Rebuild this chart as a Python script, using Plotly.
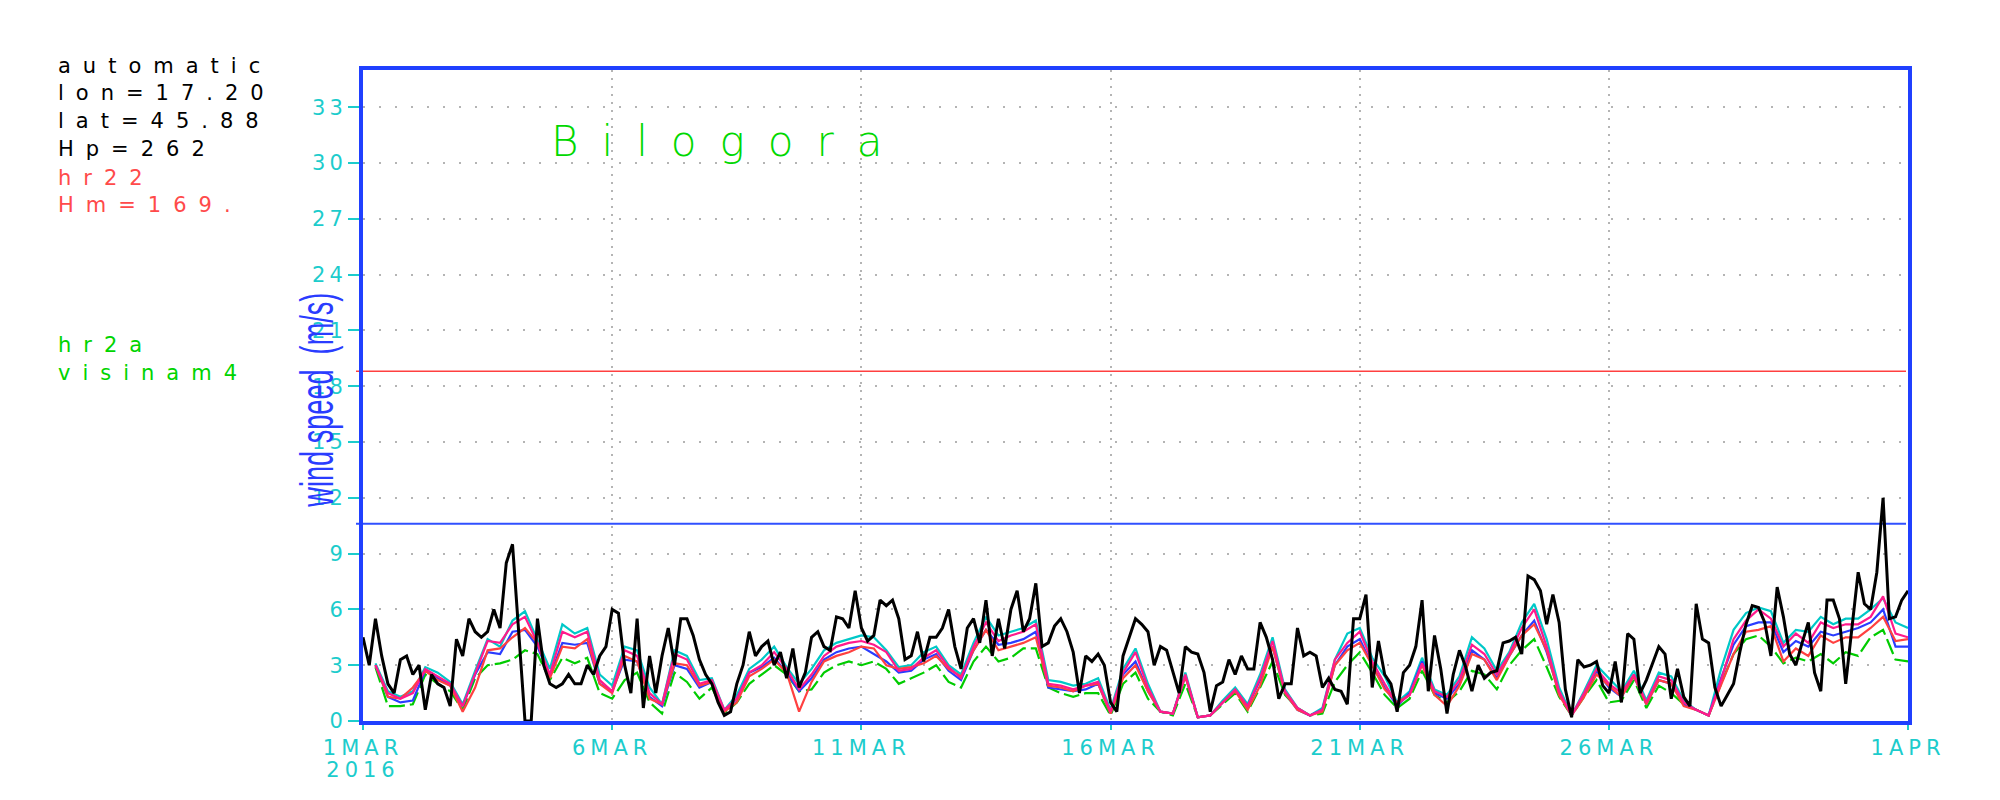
import pandas as pd
import plotly.graph_objects as go

# ---------------- data ----------------
START = "2016-03-01"
END = "2016-04-01"

# observed wind speed, 3-hourly from 1 MAR 00 UTC (one row per day)
OBS = [
    4.5, 3.0, 5.5, 3.5, 2.0, 1.5, 3.3, 3.5,
    2.5, 3.0, 0.6, 2.5, 2.0, 1.8, 0.8, 4.4,
    3.5, 5.5, 4.8, 4.5, 4.8, 6.0, 5.0, 8.5,
    9.5, 5.0, 0.0, 0.0, 5.5, 3.0, 2.0, 1.8,
    2.0, 2.5, 2.0, 2.0, 3.0, 2.5, 3.5, 4.0,
    6.0, 5.8, 3.0, 1.5, 5.5, 0.7, 3.5, 1.5,
    3.5, 5.0, 3.0, 5.5, 5.5, 4.6, 3.3, 2.5,
    2.0, 1.0, 0.3, 0.5, 2.0, 3.0, 4.8, 3.5,
    4.0, 4.3, 3.0, 3.7, 2.3, 3.9, 1.8, 2.6,
    4.5, 4.8, 4.0, 3.8, 5.6, 5.5, 5.0, 7.0,
    5.0, 4.3, 4.6, 6.5, 6.2, 6.5, 5.5, 3.3,
    3.5, 4.8, 3.2, 4.5, 4.5, 5.0, 6.0, 4.0,
    2.8, 5.0, 5.5, 4.2, 6.5, 3.5, 5.5, 3.9,
    6.0, 7.0, 4.8, 5.5, 7.4, 4.0, 4.2, 5.1,
    5.5, 4.8, 3.7, 1.5, 3.5, 3.2, 3.6, 3.0,
    1.0, 0.5, 3.5, 4.5, 5.5, 5.2, 4.8, 3.0,
    4.0, 3.8, 2.6, 1.5, 4.0, 3.7, 3.6, 2.6,
    0.5, 1.9, 2.1, 3.3, 2.5, 3.5, 2.8, 2.8,
    5.3, 4.5, 3.3, 1.2, 2.0, 2.0, 5.0, 3.5,
    3.7, 3.5, 1.8, 2.3, 1.7, 1.6, 0.9, 5.5,
    5.5, 6.8, 1.8, 4.3, 2.5, 2.0, 0.5, 2.6,
    3.0, 4.0, 6.5, 1.6, 4.6, 2.8, 0.4, 2.5,
    3.8, 2.9, 1.6, 3.0, 2.3, 2.6, 2.7, 4.2,
    4.3, 4.5, 3.6, 7.8, 7.6, 7.0, 5.2, 6.8,
    5.3, 1.7, 0.2, 3.3, 2.9, 3.0, 3.2, 1.9,
    1.5, 3.2, 1.0, 4.7, 4.4, 1.5, 2.2, 3.1,
    4.0, 3.6, 1.2, 2.8, 1.3, 0.8, 6.3, 4.4,
    4.2, 1.8, 0.8, 1.4, 2.0, 3.7, 5.2, 6.2,
    6.1, 5.3, 3.5, 7.2, 5.6, 3.6, 3.0, 4.2,
    5.3, 2.6, 1.6, 6.5, 6.5, 5.5, 2.0, 5.0,
    8.0, 6.3, 6.0, 8.0, 12.0, 5.5, 5.6, 6.5,
    7.0,
]

# model wind speeds, 6-hourly from 1 MAR 00 UTC (one row per day)
CYAN = [
    None, 3.1, 1.6, 1.3,  1.6, 2.9, 2.6, 2.1,  0.9, 2.7, 4.4, 4.0,  5.4, 5.9, 4.3, 2.8,
    5.2, 4.7, 5.0, 2.5,  1.9, 4.0, 3.8, 1.8,  0.9, 3.8, 3.5, 2.2,  2.3, 0.6, 1.4, 2.8,
    3.3, 4.0, 2.9, 2.0,  2.8, 3.8, 4.2, 4.4,  4.6, 4.5, 3.8, 2.9,  3.0, 3.7, 4.0, 3.0,
    2.5, 4.2, 5.6, 4.6,  4.8, 5.0, 5.4, 2.2,  2.1, 1.9, 2.0, 2.3,  0.6, 2.8, 3.9, 2.0,
    0.5, 0.4, 2.6, 0.2,  0.3, 1.1, 1.8, 0.9,  2.5, 4.5, 1.7, 0.7,  0.3, 0.7, 3.3, 4.7,
    5.0, 3.4, 2.4, 1.0,  1.6, 3.4, 1.7, 1.4,  2.4, 4.5, 3.9, 2.7,  3.7, 5.3, 6.3, 4.4,
    1.8, 0.3, 1.6, 3.0,  2.3, 1.6, 2.7, 1.1,  2.6, 2.4, 1.1, 0.6,  0.3, 2.8, 4.9, 5.8,
    6.1, 5.9, 4.2, 4.9,  4.8, 5.6, 5.2, 5.5,  5.5, 6.0, 6.6, 5.3,  5.0,
]
PINK = [
    None, 3.0, 1.5, 1.2,  1.5, 2.8, 2.4, 2.0,  0.8, 2.5, 4.3, 4.2,  5.2, 5.6, 4.2, 2.5,
    4.8, 4.5, 4.8, 2.2,  1.6, 3.8, 3.5, 1.5,  0.9, 3.6, 3.3, 2.0,  2.2, 0.6, 1.2, 2.6,
    3.0, 3.7, 2.8, 1.7,  2.5, 3.5, 4.0, 4.2,  4.3, 4.1, 3.7, 2.7,  2.8, 3.4, 3.8, 2.9,
    2.3, 4.0, 5.3, 4.3,  4.6, 4.8, 5.2, 2.0,  1.9, 1.7, 1.9, 2.1,  0.5, 2.6, 3.7, 1.8,
    0.5, 0.4, 2.5, 0.2,  0.3, 1.0, 1.7, 0.8,  2.3, 4.3, 1.6, 0.7,  0.3, 0.6, 3.3, 4.2,
    4.8, 3.2, 2.0, 0.9,  1.4, 3.1, 1.6, 1.3,  2.2, 4.1, 3.6, 2.5,  3.6, 5.0, 6.0, 4.0,
    1.6, 0.3, 1.5, 2.8,  2.0, 1.5, 2.5, 1.0,  2.4, 2.2, 1.0, 0.6,  0.3, 2.2, 4.4, 5.4,
    6.0, 5.5, 4.0, 4.7,  4.2, 5.3, 5.0, 5.2,  5.2, 5.6, 6.7, 4.7,  4.5,
]
BLUE = [
    None, 3.0, 1.3, 1.0,  1.1, 2.7, 2.3, 1.9,  0.8, 2.5, 3.7, 3.6,  4.8, 4.9, 4.0, 2.4,
    4.2, 4.1, 4.2, 2.0,  1.6, 3.3, 3.2, 1.3,  0.8, 3.0, 2.8, 1.8,  2.1, 0.5, 1.2, 2.6,
    2.9, 3.4, 2.6, 1.6,  2.3, 3.3, 3.7, 3.9,  4.0, 3.6, 3.2, 2.6,  2.7, 3.3, 3.6, 2.7,
    2.2, 3.8, 4.9, 4.1,  4.2, 4.4, 4.8, 1.8,  1.7, 1.6, 1.7, 2.0,  0.4, 2.5, 3.2, 1.6,
    0.5, 0.4, 2.4, 0.2,  0.3, 1.0, 1.6, 0.8,  2.2, 4.0, 1.5, 0.6,  0.3, 0.6, 3.0, 4.0,
    4.4, 3.0, 1.8, 0.8,  1.5, 3.2, 1.5, 1.2,  2.0, 3.8, 3.3, 2.3,  3.5, 4.6, 5.4, 3.7,
    1.5, 0.3, 1.4, 2.7,  1.8, 1.3, 2.4, 0.9,  2.2, 2.0, 0.9, 0.6,  0.3, 2.3, 4.1, 5.1,
    5.3, 5.3, 3.7, 4.3,  4.0, 4.8, 4.6, 4.8,  5.0, 5.3, 6.0, 4.0,  4.0,
]
RED = [
    None, 3.0, 1.3, 1.2,  1.8, 2.7, 2.2, 1.9,  0.5, 1.8, 3.8, 3.9,  4.5, 5.0, 4.2, 2.3,
    4.0, 3.9, 4.4, 2.0,  1.5, 3.5, 3.2, 1.2,  0.9, 3.1, 3.0, 1.9,  2.1, 0.5, 1.0, 2.4,
    2.8, 3.3, 2.6, 0.5,  2.1, 3.2, 3.5, 3.7,  4.0, 3.9, 3.0, 2.8,  2.9, 3.1, 3.5, 2.8,
    2.4, 3.8, 4.9, 3.8,  4.0, 4.2, 4.5, 1.9,  1.8, 1.6, 1.9, 2.0,  0.4, 2.3, 3.0, 1.6,
    0.5, 0.4, 2.4, 0.2,  0.3, 1.0, 1.6, 0.6,  1.9, 4.0, 1.5, 0.6,  0.3, 0.5, 3.0, 3.8,
    4.2, 3.0, 1.7, 1.0,  1.4, 3.0, 1.4, 0.8,  1.9, 3.6, 3.3, 2.2,  3.5, 4.6, 5.2, 3.8,
    1.4, 0.3, 1.3, 2.5,  1.9, 1.3, 2.4, 0.9,  2.2, 2.0, 0.8, 0.6,  0.3, 1.9, 3.6, 4.8,
    4.9, 5.1, 3.2, 3.9,  3.5, 4.6, 4.2, 4.5,  4.5, 5.0, 5.6, 4.3,  4.4,
]
GREEN = [
    None, 2.9, 0.8, 0.8,  0.9, 2.5, 2.0, 1.6,  0.6, 2.3, 3.0, 3.1,  3.3, 3.8, 3.6, 2.2,
    3.4, 3.1, 3.4, 1.5,  1.2, 2.2, 2.6, 1.0,  0.4, 2.6, 2.1, 1.2,  1.8, 0.4, 1.0, 2.0,
    2.5, 3.0, 2.5, 1.6,  1.7, 2.6, 3.0, 3.2,  3.0, 3.2, 2.8, 2.0,  2.3, 2.6, 3.0, 2.1,
    1.8, 3.2, 4.0, 3.2,  3.4, 3.9, 3.9, 1.8,  1.5, 1.3, 1.5, 1.5,  0.3, 2.0, 2.6, 1.2,
    0.5, 0.3, 2.0, 0.2,  0.3, 0.9, 1.5, 0.5,  1.8, 3.2, 1.4, 0.7,  0.3, 0.4, 2.1, 3.0,
    3.7, 2.6, 1.4, 0.7,  1.2, 2.7, 1.4, 1.0,  1.6, 2.7, 2.5, 1.7,  3.0, 3.8, 4.4, 2.9,
    1.3, 0.3, 1.3, 2.2,  1.0, 1.1, 2.2, 0.7,  1.9, 1.5, 0.9, 0.6,  0.3, 2.0, 3.6, 4.4,
    4.6, 4.0, 3.1, 3.4,  3.2, 3.6, 3.1, 3.7,  3.5, 4.5, 4.9, 3.3,  3.2,
]

RED_LEVEL = 18.8
BLUE_LEVEL = 10.6

Y_TICKS = list(range(0, 34, 3))
X_TICK_DATES = ["2016-03-01", "2016-03-06", "2016-03-11", "2016-03-16",
                "2016-03-21", "2016-03-26", "2016-04-01"]
X_TICK_LABELS = ["1MAR<br>2016", "6MAR", "11MAR", "16MAR", "21MAR", "26MAR", "1APR"]

INFO_BLACK = ["automatic", "lon=17.20", "lat=45.88", "Hp=262"]
INFO_RED = ["hr22", "Hm=169."]
INFO_GREEN = ["hr2a", "visinam4"]
STATION = "Bilogora"
Y_TITLE = "wind speed  (m/s)"

# ---------------- layout geometry (pixels) ----------------
W, H = 2000, 800
PL, PR, PT, PB = 363, 1908, 70, 729


def fx(px):
    return (px - PL) / (PR - PL)


def fy(py):
    return (PB - py) / (PB - PT)


BORDER = "#2040ff"
TICKC = "#1ccccc"
FONT = "DejaVu Sans"

t_obs = pd.date_range(START, periods=len(OBS), freq="3h")
t_mod = pd.date_range(START, periods=len(PINK), freq="6h")

fig = go.Figure()
model_series = [
    (GREEN, "#00cc00", "16px,5px"),
    (CYAN, "#00c8c8", "solid"),
    (BLUE, "#2a3cff", "solid"),
    (RED, "#ff4040", "solid"),
    (PINK, "#ff1a8c", "solid"),
]
for vals, col, dash in model_series:
    fig.add_trace(go.Scatter(x=t_mod, y=vals, mode="lines",
                             line=dict(color=col, width=2.2, dash=dash),
                             connectgaps=False, hoverinfo="skip"))
fig.add_trace(go.Scatter(x=t_obs, y=OBS, mode="lines",
                         line=dict(color="black", width=3), hoverinfo="skip"))

shapes = [
    dict(type="line", xref="paper", yref="y", x0=fx(356), x1=fx(PR - 2),
         y0=RED_LEVEL, y1=RED_LEVEL, line=dict(color="#ff4040", width=1.5), layer="between"),
    dict(type="line", xref="paper", yref="y", x0=fx(356), x1=fx(PR - 2),
         y0=BLUE_LEVEL, y1=BLUE_LEVEL, line=dict(color="#3050ff", width=2), layer="between"),
]

annotations = []
ys_black = [66, 93, 122, 150]
ys_red = [179, 207]
ys_green = [348, 377]
for txts, ys, col in [(INFO_BLACK, ys_black, "#000000"),
                      (INFO_RED, ys_red, "#ff4a4a"),
                      (INFO_GREEN, ys_green, "#00d400")]:
    for t, yy in zip(txts, ys):
        annotations.append(dict(text=t, xref="paper", yref="paper", x=fx(56), y=fy(yy),
                                xanchor="left", yanchor="middle", align="left",
                                showarrow=False,
                                font=dict(family=FONT, size=21, color=col)))
annotations.append(dict(text=STATION, xref="paper", yref="paper", x=fx(549), y=fy(142),
                        xanchor="left", yanchor="middle", align="left", showarrow=False,
                        font=dict(family=FONT, size=42, color="#00d800", weight=200)))
annotations.append(dict(text=Y_TITLE, xref="paper", yref="paper", x=fx(317), y=fy(404),
                        xanchor="center", yanchor="middle", textangle=-90, showarrow=False,
                        font=dict(family="Liberation Sans", size=46, color="#2a3cff")))

fig.update_layout(
    width=W, height=H, autosize=False,
    margin=dict(l=PL, r=W - PR, t=PT, b=H - PB, pad=0),
    paper_bgcolor="white", plot_bgcolor="white",
    showlegend=False,
    shapes=shapes, annotations=annotations,
    xaxis=dict(
        type="date", range=[START, END],
        tickvals=X_TICK_DATES, ticktext=X_TICK_LABELS,
        showgrid=True, gridcolor="#b4b4b4", gridwidth=1.5, griddash="2px,6px",
        ticks="outside", ticklen=5, tickwidth=2, tickcolor=TICKC,
        tickfont=dict(family=FONT, size=21, color=TICKC),
        showline=True, linecolor=BORDER, linewidth=4, mirror=True,
        zeroline=False, fixedrange=True,
    ),
    yaxis=dict(
        range=[0, 35], tickvals=Y_TICKS,
        showgrid=True, gridcolor="#b4b4b4", gridwidth=1.5, griddash="2px,14px",
        ticks="outside", ticklen=11, tickwidth=2, tickcolor=TICKC,
        tickfont=dict(family=FONT, size=21, color=TICKC),
        ticklabelstandoff=-3,
        showline=True, linecolor=BORDER, linewidth=4, mirror=True,
        zeroline=False, fixedrange=True,
    ),
)

POST = """
document.body.style.margin = '0';
document.body.style.padding = '0';
var gd = document.getElementById('{plot_id}');
function fixText(){
  gd.querySelectorAll('text.annotation-text').forEach(function(t){
    var s = t.textContent;
    if (s === 'Bilogora') { t.style.letterSpacing = '23px'; }
    else if (s.indexOf('wind') === 0) {
      if (!t.hasAttribute('data-otf')) { t.setAttribute('data-otf', t.getAttribute('transform') || ''); }
      var otf = t.getAttribute('data-otf');
      t.setAttribute('transform', otf);
      var b = t.getBBox();
      var cx = b.x + b.width / 2, cy = b.y + b.height / 2;
      t.setAttribute('transform', otf + ' translate(' + cx + ',' + cy + ') scale(0.59,1) translate(' + (-cx) + ',' + (-cy) + ')');
    }
    else { t.style.letterSpacing = '12px'; }
  });
  gd.querySelectorAll('g.xtick text').forEach(function(t){
    t.style.letterSpacing = '5px';
    var lines = t.querySelectorAll('tspan.line');
    for (var i = 1; i < lines.length; i++) { lines[i].setAttribute('dy', '1.05em'); }
  });
  gd.querySelectorAll('g.ytick text').forEach(function(t){ t.style.letterSpacing = '4px'; });
}
fixText();
gd.on('plotly_afterplot', fixText);
"""

fig.write_html("out.html", post_script=POST, config={"displayModeBar": False})
